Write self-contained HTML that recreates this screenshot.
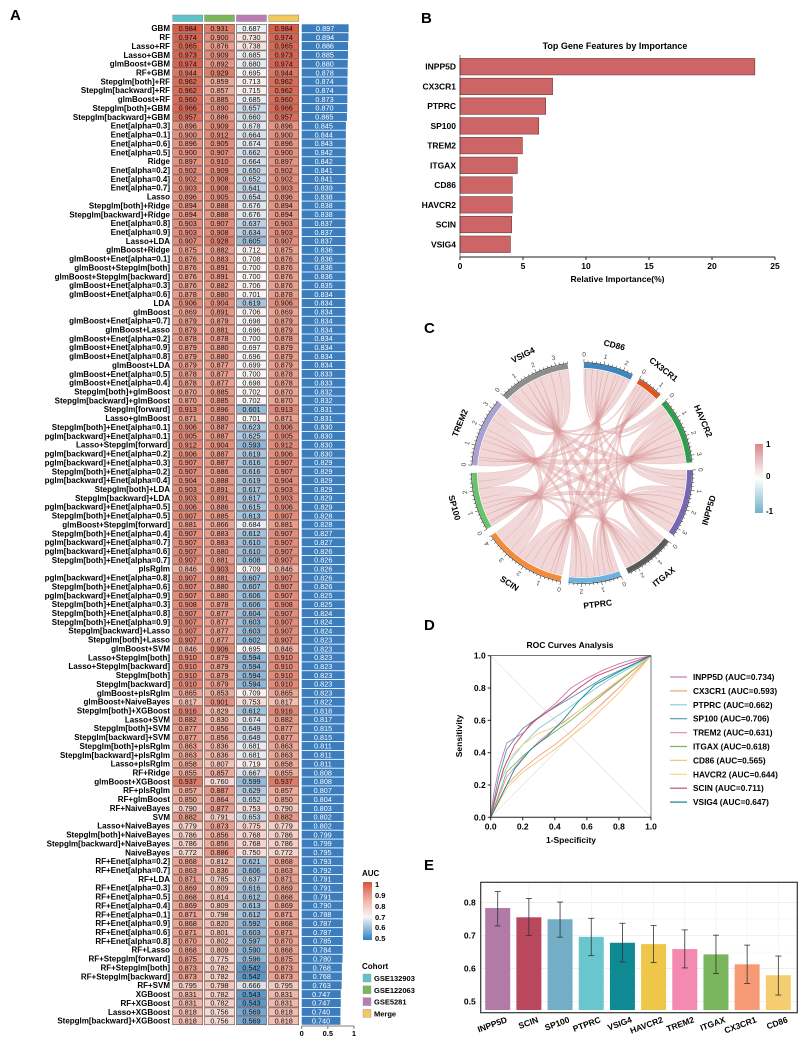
<!DOCTYPE html>
<html><head><meta charset="utf-8"><style>
html,body{margin:0;padding:0;background:#fff;}
svg{display:block;font-family:"Liberation Sans",Arial,sans-serif;}
</style></head><body>
<svg id="fig" width="804" height="1046" viewBox="0 0 804 1046" xmlns="http://www.w3.org/2000/svg">
<g id="pA"></g>
<g id="pB"></g>
<g id="pC"></g>
<g id="pD"></g>
<g id="pE"></g>
</svg>
<script>
// ---------- Panel A data ----------
const modelNames=["GBM","RF","Lasso+RF","Lasso+GBM","glmBoost+GBM","RF+GBM","Stepglm[both]+RF","Stepglm[backward]+RF","glmBoost+RF","Stepglm[both]+GBM","Stepglm[backward]+GBM","Enet[alpha=0.3]","Enet[alpha=0.1]","Enet[alpha=0.6]","Enet[alpha=0.5]","Ridge","Enet[alpha=0.2]","Enet[alpha=0.4]","Enet[alpha=0.7]","Lasso","Stepglm[both]+Ridge","Stepglm[backward]+Ridge","Enet[alpha=0.8]","Enet[alpha=0.9]","Lasso+LDA","glmBoost+Ridge","glmBoost+Enet[alpha=0.1]","glmBoost+Stepglm[both]","glmBoost+Stepglm[backward]","glmBoost+Enet[alpha=0.3]","glmBoost+Enet[alpha=0.6]","LDA","glmBoost","glmBoost+Enet[alpha=0.7]","glmBoost+Lasso","glmBoost+Enet[alpha=0.2]","glmBoost+Enet[alpha=0.9]","glmBoost+Enet[alpha=0.8]","glmBoost+LDA","glmBoost+Enet[alpha=0.5]","glmBoost+Enet[alpha=0.4]","Stepglm[both]+glmBoost","Stepglm[backward]+glmBoost","Stepglm[forward]","Lasso+glmBoost","Stepglm[both]+Enet[alpha=0.1]","pglm[backward]+Enet[alpha=0.1]","Lasso+Stepglm[forward]","pglm[backward]+Enet[alpha=0.2]","pglm[backward]+Enet[alpha=0.3]","Stepglm[both]+Enet[alpha=0.2]","pglm[backward]+Enet[alpha=0.4]","Stepglm[both]+LDA","Stepglm[backward]+LDA","pglm[backward]+Enet[alpha=0.5]","Stepglm[both]+Enet[alpha=0.5]","glmBoost+Stepglm[forward]","Stepglm[both]+Enet[alpha=0.4]","pglm[backward]+Enet[alpha=0.7]","pglm[backward]+Enet[alpha=0.6]","Stepglm[both]+Enet[alpha=0.7]","plsRglm","pglm[backward]+Enet[alpha=0.8]","Stepglm[both]+Enet[alpha=0.6]","pglm[backward]+Enet[alpha=0.9]","Stepglm[both]+Enet[alpha=0.3]","Stepglm[both]+Enet[alpha=0.8]","Stepglm[both]+Enet[alpha=0.9]","Stepglm[backward]+Lasso","Stepglm[both]+Lasso","glmBoost+SVM","Lasso+Stepglm[both]","Lasso+Stepglm[backward]","Stepglm[both]","Stepglm[backward]","glmBoost+plsRglm","glmBoost+NaiveBayes","Stepglm[both]+XGBoost","Lasso+SVM","Stepglm[both]+SVM","Stepglm[backward]+SVM","Stepglm[both]+plsRglm","Stepglm[backward]+plsRglm","Lasso+plsRglm","RF+Ridge","glmBoost+XGBoost","RF+plsRglm","RF+glmBoost","RF+NaiveBayes","SVM","Lasso+NaiveBayes","Stepglm[both]+NaiveBayes","Stepglm[backward]+NaiveBayes","NaiveBayes","RF+Enet[alpha=0.2]","RF+Enet[alpha=0.7]","RF+LDA","RF+Enet[alpha=0.3]","RF+Enet[alpha=0.5]","RF+Enet[alpha=0.4]","RF+Enet[alpha=0.1]","RF+Enet[alpha=0.9]","RF+Enet[alpha=0.6]","RF+Enet[alpha=0.8]","RF+Lasso","RF+Stepglm[forward]","RF+Stepglm[both]","RF+Stepglm[backward]","RF+SVM","XGBoost","RF+XGBoost","Lasso+XGBoost","Stepglm[backward]+XGBoost"];
const aucGSE132903=[.984,.974,.965,.973,.974,.944,.962,.962,.960,.966,.957,.896,.900,.896,.900,.897,.902,.902,.903,.896,.894,.894,.903,.903,.907,.875,.876,.876,.876,.876,.878,.906,.869,.879,.879,.878,.879,.879,.879,.878,.878,.870,.870,.913,.871,.906,.905,.912,.906,.907,.907,.904,.903,.903,.906,.907,.881,.907,.907,.907,.907,.846,.907,.907,.907,.908,.907,.907,.907,.907,.846,.910,.910,.910,.910,.865,.817,.916,.882,.877,.877,.863,.863,.858,.855,.937,.857,.850,.790,.882,.779,.786,.786,.772,.868,.863,.871,.869,.868,.869,.871,.868,.871,.870,.868,.875,.873,.873,.795,.831,.831,.818,.818];
const aucGSE122063=[.931,.900,.876,.909,.892,.929,.859,.857,.885,.890,.886,.909,.912,.905,.907,.910,.909,.908,.908,.905,.888,.888,.907,.908,.928,.882,.883,.891,.891,.882,.880,.904,.891,.879,.881,.878,.880,.880,.877,.877,.877,.885,.885,.896,.880,.887,.887,.904,.887,.887,.886,.888,.891,.891,.886,.885,.866,.883,.883,.880,.881,.903,.881,.880,.880,.878,.877,.877,.877,.877,.906,.879,.879,.879,.879,.853,.901,.829,.830,.856,.856,.836,.836,.807,.857,.760,.887,.864,.877,.791,.873,.856,.856,.886,.812,.836,.785,.809,.814,.809,.798,.820,.801,.802,.809,.775,.782,.782,.798,.782,.782,.756,.756];
const aucGSE5281=[.687,.730,.738,.685,.680,.695,.713,.715,.685,.657,.660,.678,.664,.674,.662,.664,.650,.652,.641,.654,.676,.676,.637,.634,.605,.712,.708,.700,.700,.706,.701,.619,.706,.698,.696,.700,.697,.696,.699,.700,.698,.702,.702,.601,.701,.623,.625,.593,.619,.616,.616,.619,.617,.617,.615,.613,.684,.612,.610,.610,.608,.709,.607,.607,.606,.606,.604,.603,.603,.602,.695,.594,.594,.594,.594,.709,.753,.612,.674,.649,.649,.681,.681,.719,.667,.599,.629,.652,.753,.653,.775,.768,.768,.750,.621,.606,.637,.616,.612,.613,.612,.592,.603,.597,.590,.596,.542,.542,.666,.543,.543,.569,.569];
const aucMerge=aucGSE132903.slice();
const aucMean=[.897,.894,.886,.885,.880,.878,.874,.874,.873,.870,.865,.845,.844,.843,.842,.842,.841,.841,.839,.838,.838,.838,.837,.837,.837,.836,.836,.836,.836,.835,.834,.834,.834,.834,.834,.834,.834,.834,.834,.833,.833,.832,.832,.831,.831,.830,.830,.830,.830,.829,.829,.829,.829,.829,.829,.828,.828,.827,.827,.826,.826,.826,.826,.826,.825,.825,.824,.824,.824,.823,.823,.823,.823,.823,.823,.823,.822,.818,.817,.815,.815,.811,.811,.811,.808,.808,.807,.804,.803,.802,.802,.799,.799,.795,.793,.792,.791,.791,.791,.790,.788,.787,.787,.785,.784,.780,.768,.768,.763,.747,.747,.740,.740];
const cohortNames=["GSE132903","GSE122063","GSE5281","Merge"];
const cohortColors=["#5cc3c9","#7cb55a","#b97cb4","#f3c95e"];
// ---------- Panel B data ----------
const impGenes=["INPP5D","CX3CR1","PTPRC","SP100","TREM2","ITGAX","CD86","HAVCR2","SCIN","VSIG4"];
const impValues=[23.4,7.35,6.8,6.25,4.95,4.55,4.15,4.15,4.1,4.0];
const impTicks=[0,5,10,15,20,25];
// ---------- Panel C data ----------
const chordGenes=["CD86","CX3CR1","HAVCR2","INPP5D","ITGAX","PTPRC","SCIN","SP100","TREM2","VSIG4"];
const chordColors=["#3b86c0","#e0561c","#2f9c4e","#7865b4","#5a5a5a","#6db3de","#f58a3b","#6ac26b","#a8a1d2","#8d8d8d"];
const linkA=[0,0,0,0,0,0,0,0,0,1,1,1,1,1,1,1,1,2,2,2,2,2,2,2,3,3,3,3,3,3,4,4,4,4,4,5,5,5,5,6,6,6,7,7,8];
const linkB=[1,2,3,4,5,6,7,8,9,2,3,4,5,6,7,8,9,3,4,5,6,7,8,9,4,5,6,7,8,9,5,6,7,8,9,6,7,8,9,7,8,9,8,9,9];
const linkW=[.1,.35,.3,.25,.3,.4,.2,.3,.3,.15,.2,.1,.15,.2,.1,.15,.15,.45,.3,.3,.55,.35,.45,.45,.35,.3,.55,.35,.45,.45,.25,.4,.25,.3,.35,.4,.3,.3,.35,.5,.6,.6,.4,.45,.5];
// ---------- Panel D data ----------
const rocGenes=["INPP5D","CX3CR1","PTPRC","SP100","TREM2","ITGAX","CD86","HAVCR2","SCIN","VSIG4"];
const rocAUC=[0.734,0.593,0.662,0.706,0.631,0.618,0.565,0.644,0.711,0.647];
const rocColors=["#c77db3","#f6a47c","#82cbdc","#4f96b4","#f08fb6","#7db563","#f3c877","#f1d67a","#c2456b","#178a8c"];
const rocFPR=[
 [0,.02,.05,.1,.2,.3,.4,.5,.6,.7,.8,.9,1],
 [0,.1,.2,.3,.4,.5,.6,.8,1],
 [0,.05,.12,.2,.3,.45,.6,.75,.9,1],
 [0,.05,.1,.2,.3,.4,.5,.6,.7,.85,1],
 [0,.1,.2,.3,.4,.55,.7,.85,1],
 [0,.1,.2,.3,.4,.5,.65,.8,1],
 [0,.1,.2,.3,.4,.5,.6,.8,1],
 [0,.05,.1,.2,.3,.45,.6,.8,1],
 [0,.03,.08,.15,.25,.35,.45,.55,.65,.8,1],
 [0,.05,.15,.25,.35,.45,.55,.65,.8,1]];
const rocTPR=[
 [0,.15,.3,.46,.52,.62,.7,.8,.86,.91,.95,.98,1],
 [0,.2,.3,.38,.45,.53,.62,.8,1],
 [0,.2,.35,.45,.55,.65,.76,.86,.94,1],
 [0,.25,.42,.55,.62,.68,.74,.8,.86,.93,1],
 [0,.25,.37,.47,.55,.66,.77,.88,1],
 [0,.28,.38,.46,.53,.6,.72,.84,1],
 [0,.18,.28,.35,.42,.5,.58,.77,1],
 [0,.2,.35,.45,.52,.58,.7,.85,1],
 [0,.12,.3,.45,.58,.65,.72,.8,.87,.93,1],
 [0,.1,.3,.42,.5,.6,.72,.82,.9,1]];
const rocTicks=[0,0.2,0.4,0.6,0.8,1.0];
// ---------- Panel E data ----------
const eGenes=["INPP5D","SCIN","SP100","PTPRC","VSIG4","HAVCR2","TREM2","ITGAX","CX3CR1","CD86"];
const eMean=[0.783,0.755,0.749,0.696,0.678,0.674,0.659,0.643,0.613,0.580];
const eLow=[0.729,0.700,0.695,0.639,0.620,0.618,0.602,0.585,0.555,0.520];
const eHigh=[0.833,0.812,0.801,0.752,0.737,0.730,0.717,0.701,0.671,0.638];
const eColors=["#b27aa6","#b9485f","#74aec6","#68c6cc","#0f8a93","#eec64a","#f48aaf","#7ab55e","#f59a74","#f5cd70"];
const eTicks=[0.5,0.6,0.7,0.8];

const NS="http://www.w3.org/2000/svg";
function mk(parent,tag,attrs,txt){const e=document.createElementNS(NS,tag);for(const k in attrs)e.setAttribute(k,attrs[k]);if(txt!==undefined)e.textContent=txt;parent.appendChild(e);return e;}
function hex(c){return[parseInt(c.slice(1,3),16),parseInt(c.slice(3,5),16),parseInt(c.slice(5,7),16)];}
function mix(a,b,t){const A=hex(a),B=hex(b);return"rgb("+A.map((v,i)=>Math.round(v+(B[i]-v)*t)).join(",")+")";}
function heatColor(v){if(v<0.7){return mix("#2f7fbd","#f7f7f7",Math.max(0,(v-0.5)/0.2));}
 if(v<0.85)return mix("#f7f7f7","#eeaf9f",(v-0.7)/0.15);return mix("#eeaf9f","#d4533f",Math.min(1,(v-0.85)/0.15));}

// ---------- Panel A ----------
(function(){
 const g=document.getElementById("pA");
 let t=mk(g,"text",{x:10,y:20,"font-size":15,"font-weight":"bold"},"A");
 
 
 const colX=[172.7,204.5,236.5,268.7],cw=30;
 const rowY=i=>28.3+i*8.861;
 const cols=[aucGSE132903,aucGSE122063,aucGSE5281,aucMerge];
 const barX0=301.7,barScale=52.3;
 cols.forEach((c,ci)=>{
  const s=mk(g,"rect",{x:colX[ci],y:15,width:cw,height:6.5,fill:cohortColors[ci],stroke:"#888","stroke-width":0.5});
  
  
 });
 modelNames.forEach((name,i)=>{
  const y=rowY(i);
  const lab=mk(g,"text",{x:170,y:y+2.9,"font-size":8,"font-weight":"bold","text-anchor":"end"},name);
  
  
  cols.forEach((c,ci)=>{
   const r=mk(g,"rect",{x:colX[ci],y:y-4,width:cw,height:8,fill:heatColor(c[i]),stroke:"#6b4a46","stroke-width":0.6});
   
   
   const tx=mk(g,"text",{x:colX[ci]+cw/2,y:y+2.7,"font-size":7.3,"text-anchor":"middle",fill:"#111"},c[i].toFixed(3));
   
   
  });
  const b=mk(g,"rect",{x:barX0,y:y-4,width:aucMean[i]*barScale,height:8,fill:"#3b7dbd"});
  
  
  const bt=mk(g,"text",{x:barX0+aucMean[i]*barScale/2,y:y+2.7,"font-size":7.3,"text-anchor":"middle",fill:"#fff"},aucMean[i].toFixed(3));
  
  
 });
 const ay=1026;
 mk(g,"line",{x1:barX0,y1:ay,x2:barX0+barScale,y2:ay,stroke:"#555","stroke-width":0.8});
 [0,0.5,1].forEach(v=>{mk(g,"line",{x1:barX0+v*barScale,y1:ay,x2:barX0+v*barScale,y2:ay+3,stroke:"#555","stroke-width":0.8});
  const tl=mk(g,"text",{x:barX0+v*barScale,y:ay+10,"font-size":7.5,"font-weight":"bold","text-anchor":"middle"},String(v));
  
  });
 const lg=mk(g,"g",{});
 
 
 mk(lg,"text",{x:362,y:876,"font-size":8,"font-weight":"bold"},"AUC");
 const defs=mk(lg,"defs",{});const gr=mk(defs,"linearGradient",{id:"aucg",x1:0,y1:1,x2:0,y2:0});
 [[0,"#2f7fbd"],[0.4,"#f7f7f7"],[0.7,"#eeaf9f"],[1,"#d4533f"]].forEach(s=>mk(gr,"stop",{offset:s[0],"stop-color":s[1]}));
 mk(lg,"rect",{x:363,y:882,width:9,height:58,fill:"url(#aucg)"});
 [["1",884],["0.9",895],["0.8",906],["0.7",917],["0.6",927],["0.5",938]].forEach(l=>mk(lg,"text",{x:375,y:l[1]+3,"font-size":7.5,"font-weight":"bold"},l[0]));
 mk(lg,"text",{x:362,y:969,"font-size":8,"font-weight":"bold"},"Cohort");
 cohortNames.forEach((n,i)=>{mk(lg,"rect",{x:363,y:974+i*11.8,width:8,height:8,fill:cohortColors[i],stroke:"#999","stroke-width":0.4});
  const ct=mk(lg,"text",{x:374,y:981+i*11.8,"font-size":7.5,"font-weight":"bold"},n);
  
  });
})();

// ---------- Panel B ----------
(function(){
 const g=document.getElementById("pB");
 const t=mk(g,"text",{x:421,y:23,"font-size":15,"font-weight":"bold"},"B");
 
 
 const x0=460,x1=775,xs=v=>x0+(v/25)*(x1-x0),y0=66.7,step=19.73,bh=16.5,axY=257;
 const tt=mk(g,"text",{x:615,y:49,"font-size":9,"font-weight":"bold","text-anchor":"middle"},"Top Gene Features by Importance");
 
 
 impGenes.forEach((gn,i)=>{const y=y0+i*step;
  const r=mk(g,"rect",{x:x0,y:y-bh/2,width:xs(impValues[i])-x0,height:bh,fill:"#cd6566",stroke:"#6d3a3a","stroke-width":0.6});
  
  
  const l=mk(g,"text",{x:456,y:y+3,"font-size":8.5,"font-weight":"bold","text-anchor":"end"},gn);
  
  });
 mk(g,"line",{x1:x0,y1:axY,x2:x1,y2:axY,stroke:"#222","stroke-width":1});
 mk(g,"line",{x1:x0,y1:55,x2:x0,y2:axY,stroke:"#222","stroke-width":0.6});
 impTicks.forEach(v=>{mk(g,"line",{x1:xs(v),y1:axY,x2:xs(v),y2:axY+3,stroke:"#222"});
  const tl=mk(g,"text",{x:xs(v),y:axY+12,"font-size":8.5,"font-weight":"bold","text-anchor":"middle"},String(v));
  
  });
 const xl=mk(g,"text",{x:(x0+x1)/2,y:282,"font-size":8.5,"font-weight":"bold","text-anchor":"middle"},"Relative Importance(%)");
 
 
})();

// ---------- Panel C ----------
(function(){
 const g=document.getElementById("pC");
 const t=mk(g,"text",{x:424,y:333,"font-size":15,"font-weight":"bold"},"C");
 
 
 const cx=582,cy=473,rIn=104,rOut=110,degPer=10.55,gap=4,start0=1;
 const n=chordGenes.length,tot=new Array(n).fill(0);
 linkW.forEach((w,k)=>{tot[linkA[k]]+=w;tot[linkB[k]]+=w;});
 const st=[];let a=start0;for(let i=0;i<n;i++){st.push(a);a+=tot[i]*degPer+gap;}
 const pt=(deg,r)=>{const t=(deg-90)*Math.PI/180;return[cx+r*Math.cos(t),cy+r*Math.sin(t)];};
 const cur=st.slice();
 const links=mk(g,"g",{});
 
 
 linkW.forEach((w,k)=>{const i=linkA[k],j=linkB[k];
  const a1=cur[i],a2=cur[i]+w*degPer;cur[i]=a2;const b1=cur[j],b2=cur[j]+w*degPer;cur[j]=b2;
  const p1=pt(a1,rIn),p2=pt(a2,rIn),q1=pt(b1,rIn),q2=pt(b2,rIn);
  const d=`M${p1}A${rIn},${rIn} 0 0 1 ${p2}Q${cx},${cy} ${q1}A${rIn},${rIn} 0 0 1 ${q2}Q${cx},${cy} ${p1}Z`;
  const p=mk(links,"path",{d:d,fill:"rgba(222,160,160,0.42)",stroke:"rgba(205,130,130,0.35)","stroke-width":0.5});
  
  });
 for(let i=0;i<n;i++){
  const a1=st[i],a2=st[i]+tot[i]*degPer;
  const o1=pt(a1,rOut),o2=pt(a2,rOut),i1=pt(a1,rIn+1),i2=pt(a2,rIn+1);
  const large=(a2-a1)>180?1:0;
  const sec=mk(g,"path",{d:`M${o1}A${rOut},${rOut} 0 ${large} 1 ${o2}L${i2}A${rIn+1},${rIn+1} 0 ${large} 0 ${i1}Z`,fill:chordColors[i]});
  
  
  const e1=pt(a1,rOut+0.5),e2=pt(a2,rOut+0.5);
  mk(g,"path",{d:`M${e1}A${rOut+0.5},${rOut+0.5} 0 ${large} 1 ${e2}`,fill:"none",stroke:"#222","stroke-width":0.6});
  for(let v=0;v<=tot[i]+1e-6;v+=0.2){const ang=a1+v*degPer;const major=Math.abs(v-Math.round(v))<1e-6;
   const s=pt(ang,rOut+0.5),e=pt(ang,rOut+(major?4:2.5));mk(g,"line",{x1:s[0],y1:s[1],x2:e[0],y2:e[1],stroke:"#222","stroke-width":0.5});
   if(major){const lp=pt(ang,rOut+9);mk(g,"text",{x:lp[0],y:lp[1]+2.5,"font-size":6.5,fill:"#444","text-anchor":"middle",transform:`rotate(${ang},${lp[0]},${lp[1]})`},String(Math.round(v)));}}
  const mid=(a1+a2)/2;const lp=pt(mid,rOut+22);let rot=mid;if(mid>90&&mid<270)rot=mid-180;
  const gl=mk(g,"text",{x:lp[0],y:lp[1]+3,"font-size":8.5,"font-weight":"bold","text-anchor":"middle",transform:`rotate(${rot},${lp[0]},${lp[1]})`},chordGenes[i]);
  
  
 }
 const lg=mk(g,"g",{});
 
 
 const defs=mk(lg,"defs",{});const gr=mk(defs,"linearGradient",{id:"corg",x1:0,y1:0,x2:0,y2:1});
 [[0,"#d6898a"],[0.5,"#ffffff"],[1,"#72b1cc"]].forEach(s=>mk(gr,"stop",{offset:s[0],"stop-color":s[1]}));
 mk(lg,"rect",{x:755,y:444,width:8,height:69,fill:"url(#corg)"});
 [["1",447],["0",479],["-1",514]].forEach(l=>mk(lg,"text",{x:766,y:l[1],"font-size":8,"font-weight":"bold"},l[0]));
})();

// ---------- Panel D ----------
(function(){
 const g=document.getElementById("pD");
 const t=mk(g,"text",{x:424,y:630,"font-size":15,"font-weight":"bold"},"D");
 
 
 const X0=490.7,X1=651,Y0=817.3,Y1=655.7,xs=v=>X0+v*(X1-X0),ys=v=>Y0-v*(Y0-Y1);
 const tt=mk(g,"text",{x:570,y:648,"font-size":8.5,"font-weight":"bold","text-anchor":"middle"},"ROC Curves Analysis");
 
 
 mk(g,"line",{x1:xs(0),y1:ys(0),x2:xs(1),y2:ys(1),stroke:"#ddd","stroke-width":0.6});
 mk(g,"line",{x1:xs(0),y1:ys(1),x2:xs(1),y2:ys(0),stroke:"#ddd","stroke-width":0.6});
 rocGenes.forEach((gn,i)=>{const pts=rocFPR[i].map((f,k)=>xs(f).toFixed(1)+","+ys(rocTPR[i][k]).toFixed(1)).join(" ");
  const pl=mk(g,"polyline",{points:pts,fill:"none",stroke:rocColors[i],"stroke-width":0.9});
  
  
  const ly=677+i*13.9;
  mk(g,"line",{x1:670,y1:ly,x2:687,y2:ly,stroke:rocColors[i],"stroke-width":1.2});
  const lt=mk(g,"text",{x:693,y:ly+3,"font-size":8.3,"font-weight":"bold"},`${gn} (AUC=${rocAUC[i].toFixed(3)})`);
  
  });
 mk(g,"path",{d:`M${X0},${Y1}V${Y0}H${X1}`,fill:"none",stroke:"#222","stroke-width":1});
 mk(g,"line",{x1:X0,y1:Y1,x2:X1,y2:Y1,stroke:"#222","stroke-width":0.6});
 mk(g,"line",{x1:X1,y1:Y1,x2:X1,y2:Y0,stroke:"#222","stroke-width":0.6});
 rocTicks.forEach(v=>{
  mk(g,"line",{x1:X0-3,y1:ys(v),x2:X0,y2:ys(v),stroke:"#222"});
  const yl=mk(g,"text",{x:X0-5,y:ys(v)+3,"font-size":8.5,"font-weight":"bold","text-anchor":"end"},v.toFixed(1));
  
  
  mk(g,"line",{x1:xs(v),y1:Y0,x2:xs(v),y2:Y0+3,stroke:"#222"});
  const xl=mk(g,"text",{x:xs(v),y:Y0+12,"font-size":8.5,"font-weight":"bold","text-anchor":"middle"},v.toFixed(1));
  
  });
 const xt=mk(g,"text",{x:571,y:843,"font-size":8.5,"font-weight":"bold","text-anchor":"middle"},"1-Specificity");
 
 
 const yt=mk(g,"text",{x:462,y:736,"font-size":8.5,"font-weight":"bold","text-anchor":"middle",transform:"rotate(-90,462,736)"},"Sensitivity");
 
 
})();

// ---------- Panel E ----------
(function(){
 const g=document.getElementById("pE");
 const t=mk(g,"text",{x:424,y:870,"font-size":15,"font-weight":"bold"},"E");
 
 
 const X0=480.7,X1=797.3,Yt=882.3,Yb=1012.7,ys=v=>1001.7-(v-0.5)*331,xc=i=>497.7+i*31.18,bw=25;
 eTicks.forEach(v=>{mk(g,"line",{x1:X0,y1:ys(v),x2:X1,y2:ys(v),stroke:"#e6e6e6","stroke-width":0.6});
  mk(g,"line",{x1:X0,y1:ys(v+0.05),x2:X1,y2:ys(v+0.05),stroke:"#f2f2f2","stroke-width":0.5});
  const yl=mk(g,"text",{x:X0-5,y:ys(v)+3,"font-size":8.5,"font-weight":"bold","text-anchor":"end"},v.toFixed(1));
  
  });
 eGenes.forEach((gn,i)=>{mk(g,"line",{x1:xc(i),y1:Yt,x2:xc(i),y2:Yb,stroke:"#ececec","stroke-width":0.5});});
 eGenes.forEach((gn,i)=>{
  const r=mk(g,"rect",{x:xc(i)-bw/2,y:ys(eMean[i]),width:bw,height:1010-ys(eMean[i]),fill:eColors[i]});
  
  
  mk(g,"line",{x1:xc(i),y1:ys(eHigh[i]),x2:xc(i),y2:ys(eLow[i]),stroke:"#333","stroke-width":0.8});
  mk(g,"line",{x1:xc(i)-3,y1:ys(eHigh[i]),x2:xc(i)+3,y2:ys(eHigh[i]),stroke:"#333","stroke-width":0.8});
  mk(g,"line",{x1:xc(i)-3,y1:ys(eLow[i]),x2:xc(i)+3,y2:ys(eLow[i]),stroke:"#333","stroke-width":0.8});
  const lx=xc(i)+10,ly=1022;
  const l=mk(g,"text",{x:lx,y:ly,"font-size":8.5,"font-weight":"bold","text-anchor":"end",transform:`rotate(-20,${lx},${ly})`},gn);
  
  });
 mk(g,"rect",{x:X0,y:Yt,width:X1-X0,height:Yb-Yt,fill:"none",stroke:"#333","stroke-width":1.2});
})();
</script>
</body></html>
